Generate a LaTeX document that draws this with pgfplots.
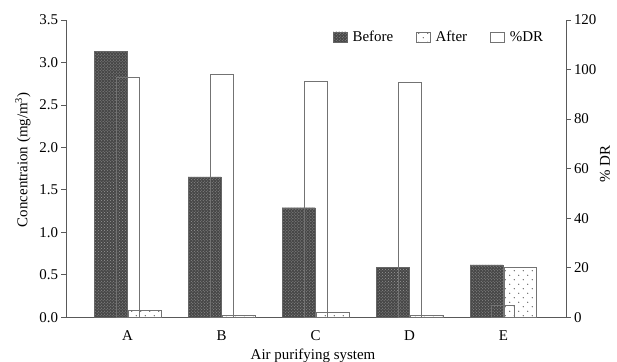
\documentclass[border=0pt]{standalone}
\usepackage{fontspec}
\setmainfont{Liberation Serif}
\usepackage{pgfplots}
\pgfplotsset{compat=1.18}
\usetikzlibrary{patterns,patterns.meta}
\tikzdeclarepattern{
  name=sparsedots,
  type=uncolored,
  bottom left={(0pt,0pt)},
  top right={(9pt,9pt)},
  tile size={(9pt,9pt)},
  code={
    \pgfpathcircle{\pgfpoint{2.25pt}{2.25pt}}{0.6pt}
    \pgfpathcircle{\pgfpoint{6.75pt}{6.75pt}}{0.6pt}
    \pgfusepath{fill}
  }
}
\newcommand\fs{\fontsize{15}{18}\selectfont}
\pgfplotsset{
  common/.style={
    scale only axis, width=500bp, height=297.3bp,
    xmin=-0.656, xmax=4.667,
    axis line style={black!65, line width=0.8bp},
    tick style={black!65, line width=0.8bp},
    major tick length=4.5bp,
    tick align=outside,
    /pgf/number format/assume math mode=true,
    tick label style={font=\fs},
    label style={font=\fs},
  },
  sq legend/.style={legend image code/.code={\draw[##1] (0bp,-5bp) rectangle (14bp,5bp);}},
  beforestyle/.style={fill=black!72, draw=black!60, postaction={pattern=crosshatch dots, pattern color=black!40}},
  afterstyle/.style={fill=white, draw=black!55, postaction={pattern=sparsedots, pattern color=black!70}},
  drstyle/.style={fill=none, draw=black!55, line width=0.8bp},
}
\begin{document}
\begin{tikzpicture}
\path[use as bounding box] (-66bp,-44.7bp) rectangle (551bp,317.3bp);
\begin{axis}[common,
  axis y line*=left, axis x line*=bottom,
  ymin=0, ymax=3.5, ytick={0,0.5,...,3.5},
  yticklabel style={/pgf/number format/fixed, /pgf/number format/fixed zerofill, /pgf/number format/precision=1},
  xtick={0,1,2,3,4}, xticklabels={A,B,C,D,E},
  x tick style={draw=none},
  xticklabel style={yshift=-5bp},
  ylabel={Concentraion (mg/m\textsuperscript{3})},
  ylabel style={at={(axis description cs:-0.086,0.53)}, anchor=center},
  xlabel={Air purifying system},
  xlabel style={at={(axis description cs:0.494,0)}, anchor=north, yshift=-28bp},
]
\addplot[ybar, bar width=0.35, bar shift=-0.18, beforestyle] coordinates {(0,3.13) (1,1.654) (2,1.29) (3,0.586) (4,0.618)};
\addplot[ybar, bar width=0.35, bar shift=0.18, afterstyle] coordinates {(0,0.086) (1,0.027) (2,0.055) (3,0.024) (4,0.586)};
\end{axis}
\begin{axis}[common,
  axis y line*=right, axis x line=none,
  ymin=0, ymax=120, ytick={0,20,...,120},
  ylabel={\% DR},
  ylabel style={at={(axis description cs:1.078,0.516)}, anchor=center},
  legend columns=3,
  legend style={at={(axis description cs:0.528,0.943)}, anchor=west, draw=none, fill=none, font=\fs,
    /tikz/every odd column/.append style={column sep=3bp},
    /tikz/every even column/.append style={column sep=21bp}},
  legend cell align=left,
]
\addlegendimage{beforestyle, sq legend}
\addlegendentry{Before}
\addlegendimage{afterstyle, sq legend}
\addlegendentry{After}
\addplot[ybar, bar width=0.245, bar shift=0, drstyle, sq legend] coordinates {(0,97.0) (1,98.1) (2,95.2) (3,94.8) (4,4.7)};
\addlegendentry{\%DR}
\end{axis}
\end{tikzpicture}
\end{document}
